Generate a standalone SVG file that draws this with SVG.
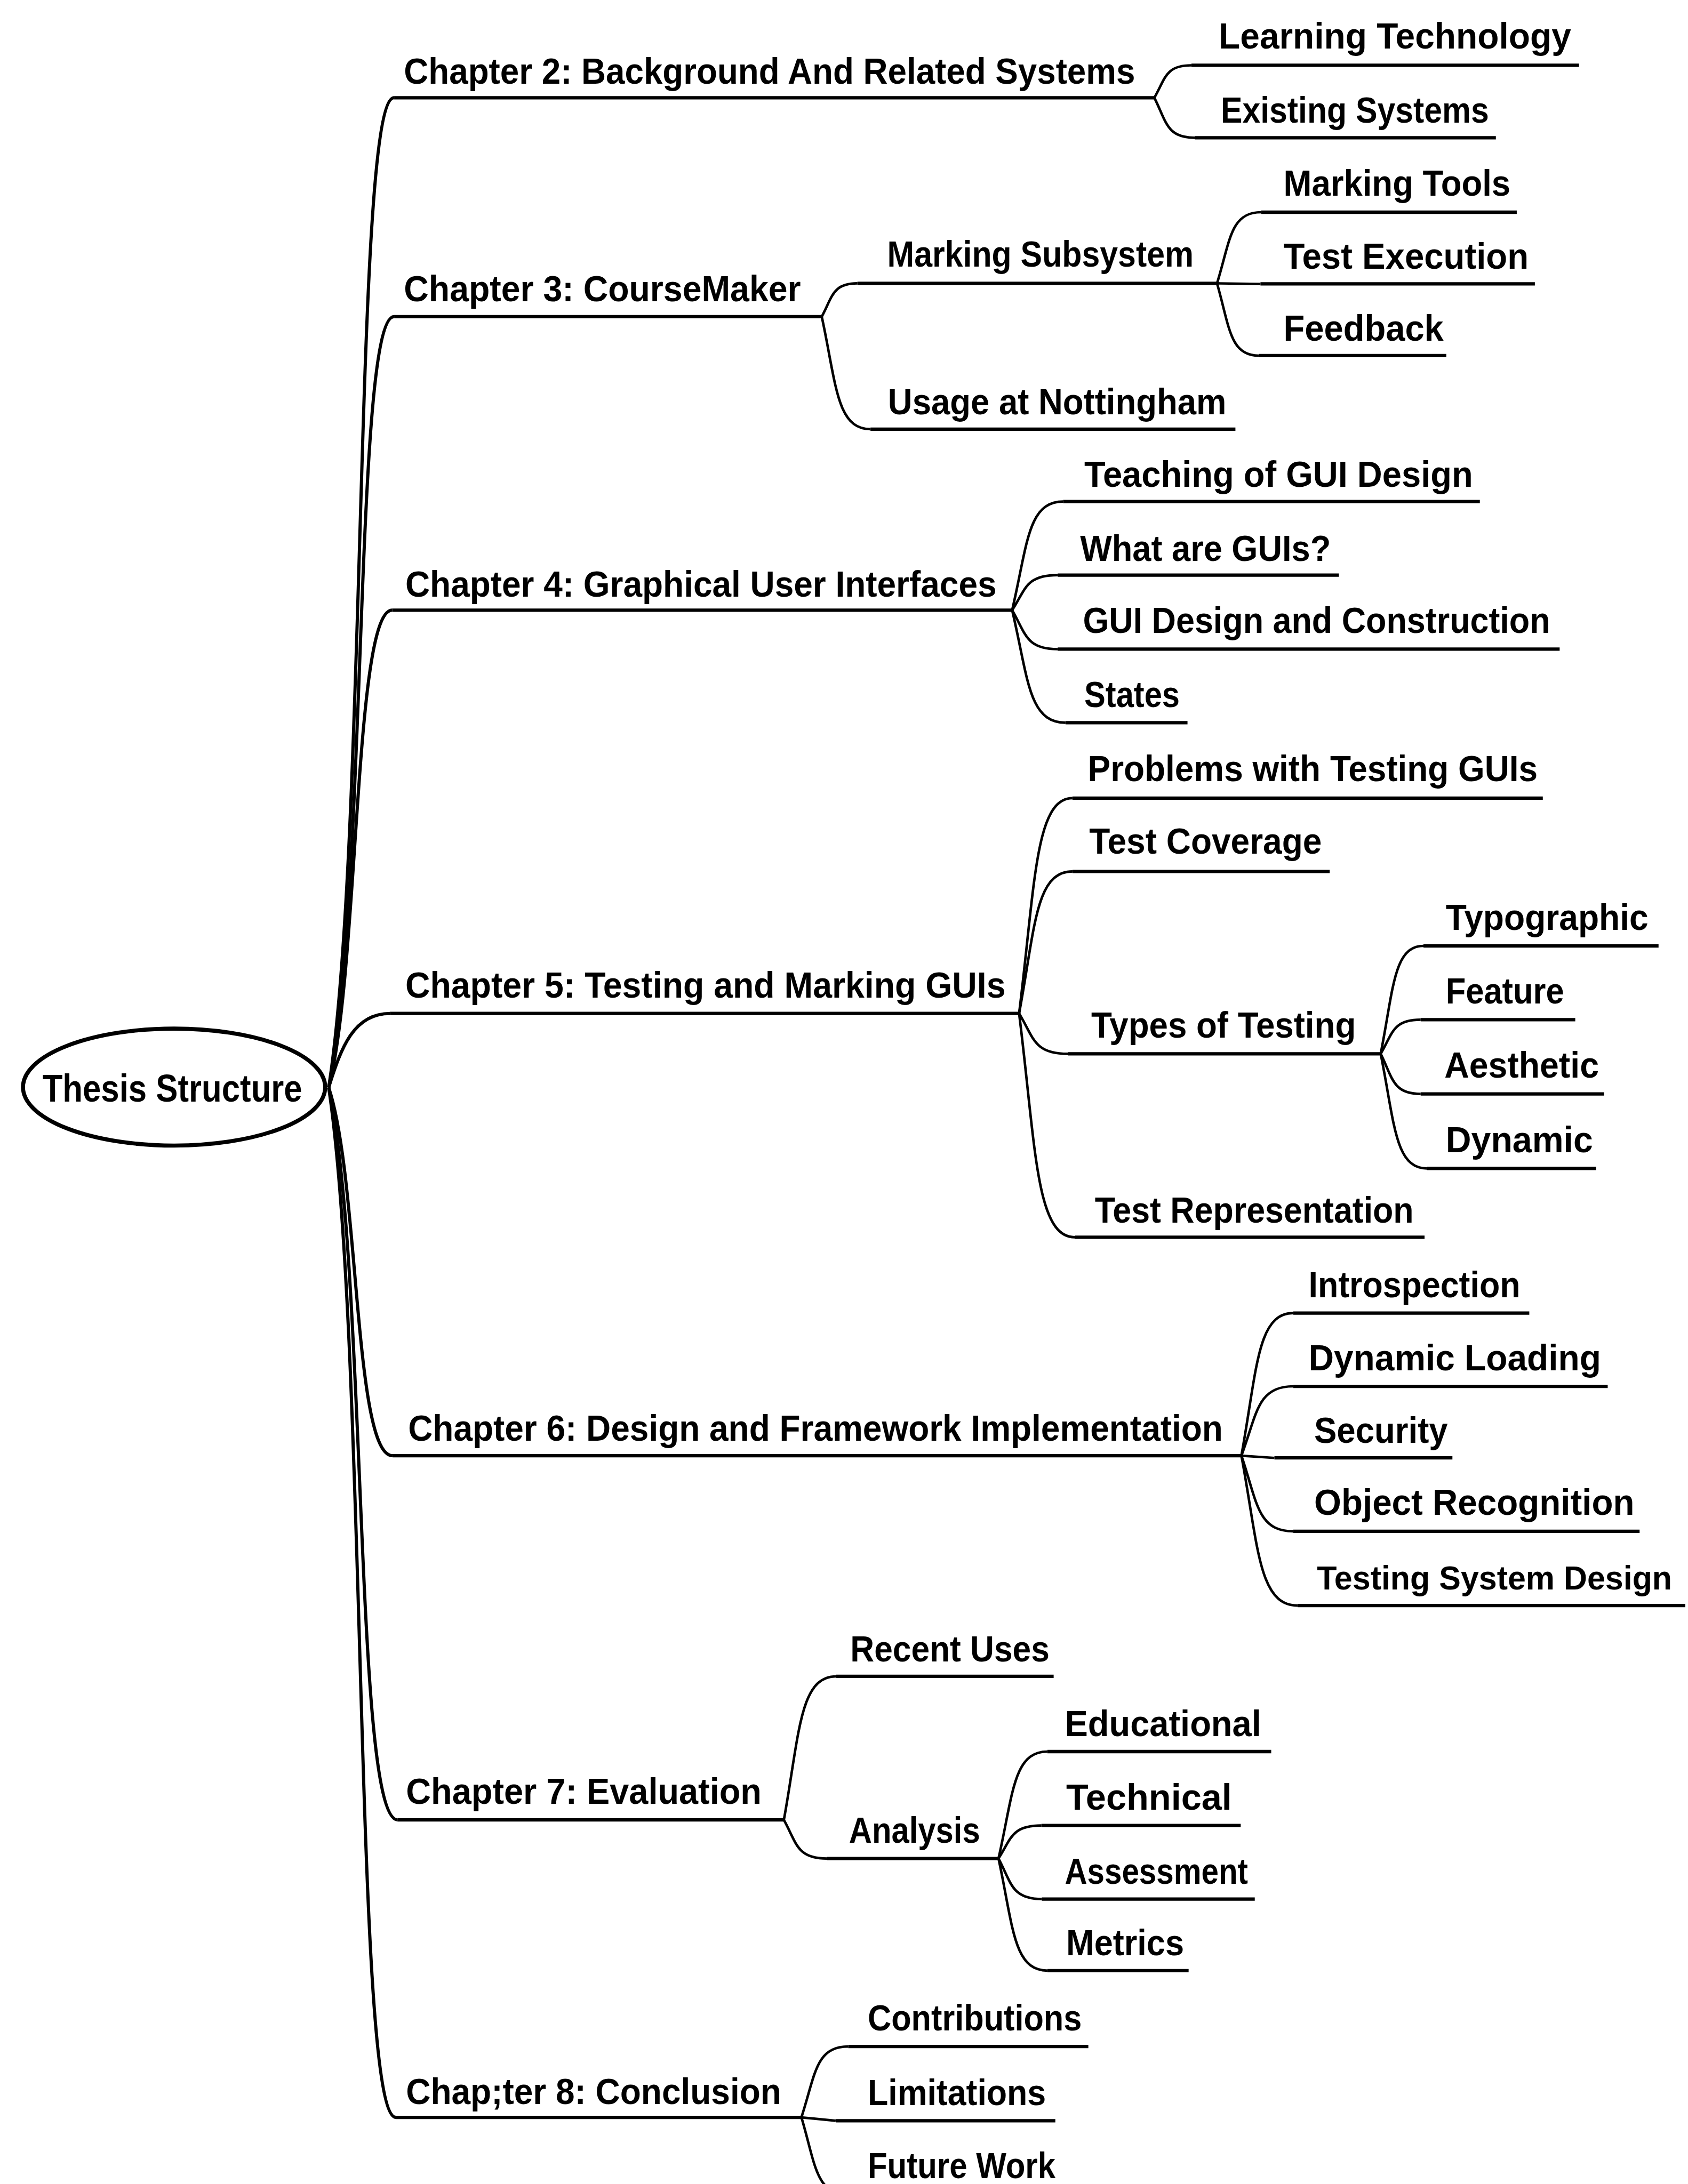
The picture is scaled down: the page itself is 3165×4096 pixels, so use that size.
<svg xmlns="http://www.w3.org/2000/svg" width="3165" height="4096" viewBox="0 0 3165 4096">
<style>
.t{font-family:'Liberation Sans',Arial,Helvetica,sans-serif;font-weight:700;font-size:26px;fill:#000}
.r{font-size:28px}
.s{font-size:24px}
.ul{stroke:#000;stroke-width:2.4;fill:none;stroke-linecap:butt}
.c{stroke:#000;stroke-width:1.8;fill:none}
.cm{stroke:#000;stroke-width:2.3;fill:none}
</style>
<rect x="0" y="0" width="3165" height="4096" fill="#fff"/>
<g transform="scale(2.6115)">
<g id="connectors">
<path class="cm" d="M236 781 C264 603.3 254 70.2 283 70.2"/>
<path class="cm" d="M236 781 C264 642.6 254 227.4 283 227.4"/>
<path class="cm" d="M236 781 C258 695.3 254 438.2 281.6 438.2"/>
<path class="cm" d="M236 781 C245 752 254 727.8 280 727.8"/>
<path class="cm" d="M236 781 C258 847.1 254 1045.4 281.8 1045.4"/>
<path class="cm" d="M236 781 C264 912.5 254 1307 285.6 1307"/>
<path class="cm" d="M236 781 C264 965.9 254 1520.6 284.3 1520.6"/>
<path class="c" d="M828.8 70.2 C836.8 56.2 836.8 46.9 855.4 46.9"/>
<path class="c" d="M828.8 70.2 C837.5 87.4 837.5 98.9 857.8 98.9"/>
<path class="c" d="M590 227.4 C597.7 213.1 597.7 203.5 615.6 203.5"/>
<path class="c" d="M590 227.4 C600.5 275.9 600.5 308.2 625 308.2"/>
<path class="c" d="M873.8 203.5 C883.3 172.8 883.3 152.4 905.5 152.4"/>
<path class="c" d="M873.8 203.5 L905 203.9"/>
<path class="c" d="M873.8 203.5 C882.8 234.6 882.8 255.4 903.8 255.4"/>
<path class="c" d="M726.7 438.2 C737.7 391.4 737.7 360.2 763.3 360.2"/>
<path class="c" d="M726.7 438.2 C736.5 423.1 736.5 413 759.4 413"/>
<path class="c" d="M726.7 438.2 C736.5 455 736.5 466.2 759.4 466.2"/>
<path class="c" d="M726.7 438.2 C738.2 486.7 738.2 519 765 519"/>
<path class="c" d="M731.7 727.8 C743.2 635 743.2 573.2 770 573.2"/>
<path class="c" d="M731.7 727.8 C743.2 666.6 743.2 625.8 770 625.8"/>
<path class="c" d="M731.7 727.8 C742.2 745.2 742.2 756.8 766.7 756.8"/>
<path class="c" d="M731.7 727.8 C743.7 824.2 743.7 888.5 771.6 888.5"/>
<path class="c" d="M991.3 756.8 C1000.5 710.3 1000.5 679.3 1022 679.3"/>
<path class="c" d="M991.3 756.8 C999.9 742.1 999.9 732.3 1020 732.3"/>
<path class="c" d="M991.3 756.8 C999.9 774.1 999.9 785.6 1020 785.6"/>
<path class="c" d="M991.3 756.8 C1001.3 806.2 1001.3 839.1 1024.5 839.1"/>
<path class="c" d="M891.3 1045.4 C902.5 984 902.5 943 928.5 943"/>
<path class="c" d="M891.3 1045.4 C902.5 1015.5 902.5 995.6 928.5 995.6"/>
<path class="c" d="M891.3 1045.4 L915 1047"/>
<path class="c" d="M891.3 1045.4 C902.5 1078 902.5 1099.7 928.5 1099.7"/>
<path class="c" d="M891.3 1045.4 C903.4 1110 903.4 1153 931.6 1153"/>
<path class="c" d="M562.8 1307 C574 1245.1 574 1203.9 600.3 1203.9"/>
<path class="c" d="M562.8 1307 C572 1323.6 572 1334.7 593.6 1334.7"/>
<path class="c" d="M716.9 1334.7 C727.4 1288.6 727.4 1257.9 752 1257.9"/>
<path class="c" d="M716.9 1334.7 C726.1 1320.5 726.1 1311 747.7 1311"/>
<path class="c" d="M716.9 1334.7 C726.2 1352.2 726.2 1363.8 748 1363.8"/>
<path class="c" d="M716.9 1334.7 C727.4 1383 727.4 1415.2 752 1415.2"/>
<path class="c" d="M575.4 1520.6 C585.4 1490.1 585.4 1469.7 609 1469.7"/>
<path class="c" d="M575.4 1520.6 L600 1523"/>
<path class="c" d="M575.4 1520.6 C585.4 1553.8 585.4 1576 609 1576"/>
</g>
<g id="n-root"><ellipse cx="125" cy="780.7" rx="108.5" ry="42" fill="#fff" stroke="#000" stroke-width="2.9"/><text class="t r" x="30.5" y="791" textLength="186.5" lengthAdjust="spacingAndGlyphs">Thesis Structure</text></g>
<g id="n-ch2"><text class="t" x="290" y="60" textLength="525" lengthAdjust="spacingAndGlyphs">Chapter 2: Background And Related Systems</text><line class="ul" x1="283" y1="70.2" x2="829" y2="70.2"/></g>
<g id="n-ch2a"><text class="t" x="875" y="35" textLength="253" lengthAdjust="spacingAndGlyphs">Learning Technology</text><line class="ul" x1="855.4" y1="46.9" x2="1133.7" y2="46.9"/></g>
<g id="n-ch2b"><text class="t" x="876.5" y="88" textLength="192.5" lengthAdjust="spacingAndGlyphs">Existing Systems</text><line class="ul" x1="857.8" y1="98.9" x2="1074" y2="98.9"/></g>
<g id="n-ch3"><text class="t" x="290" y="216.5" textLength="285" lengthAdjust="spacingAndGlyphs">Chapter 3: CourseMaker</text><line class="ul" x1="283" y1="227.4" x2="590" y2="227.4"/></g>
<g id="n-ch3a"><text class="t" x="637" y="191.5" textLength="220" lengthAdjust="spacingAndGlyphs">Marking Subsystem</text><line class="ul" x1="615.6" y1="203.5" x2="873.8" y2="203.5"/></g>
<g id="n-ch3a1"><text class="t" x="921.5" y="140.5" textLength="163" lengthAdjust="spacingAndGlyphs">Marking Tools</text><line class="ul" x1="905.5" y1="152.4" x2="1089" y2="152.4"/></g>
<g id="n-ch3a2"><text class="t" x="921.5" y="193" textLength="176" lengthAdjust="spacingAndGlyphs">Test Execution</text><line class="ul" x1="905" y1="203.9" x2="1102" y2="203.9"/></g>
<g id="n-ch3a3"><text class="t" x="921.5" y="244.8" textLength="115" lengthAdjust="spacingAndGlyphs">Feedback</text><line class="ul" x1="903.8" y1="255.4" x2="1038.4" y2="255.4"/></g>
<g id="n-ch3b"><text class="t" x="637.5" y="297.7" textLength="243" lengthAdjust="spacingAndGlyphs">Usage at Nottingham</text><line class="ul" x1="625" y1="308.2" x2="887" y2="308.2"/></g>
<g id="n-ch4"><text class="t" x="291" y="428.5" textLength="424.5" lengthAdjust="spacingAndGlyphs">Chapter 4: Graphical User Interfaces</text><line class="ul" x1="281.6" y1="438.2" x2="726.7" y2="438.2"/></g>
<g id="n-ch4a"><text class="t" x="778.5" y="349.7" textLength="279" lengthAdjust="spacingAndGlyphs">Teaching of GUI Design</text><line class="ul" x1="763.3" y1="360.2" x2="1062.5" y2="360.2"/></g>
<g id="n-ch4b"><text class="t" x="775.5" y="402.8" textLength="180" lengthAdjust="spacingAndGlyphs">What are GUIs?</text><line class="ul" x1="759.4" y1="413" x2="961.3" y2="413"/></g>
<g id="n-ch4c"><text class="t" x="777.5" y="454.5" textLength="335.5" lengthAdjust="spacingAndGlyphs">GUI Design and Construction</text><line class="ul" x1="759.4" y1="466.2" x2="1119.8" y2="466.2"/></g>
<g id="n-ch4d"><text class="t" x="778.5" y="507.8" textLength="68.5" lengthAdjust="spacingAndGlyphs">States</text><line class="ul" x1="765" y1="519" x2="852.6" y2="519"/></g>
<g id="n-ch5"><text class="t" x="291" y="716.5" textLength="431" lengthAdjust="spacingAndGlyphs">Chapter 5: Testing and Marking GUIs</text><line class="ul" x1="280" y1="727.8" x2="731.7" y2="727.8"/></g>
<g id="n-ch5a"><text class="t" x="781" y="561" textLength="323" lengthAdjust="spacingAndGlyphs">Problems with Testing GUIs</text><line class="ul" x1="770" y1="573.2" x2="1107.7" y2="573.2"/></g>
<g id="n-ch5b"><text class="t" x="782" y="613.2" textLength="167" lengthAdjust="spacingAndGlyphs">Test Coverage</text><line class="ul" x1="770" y1="625.8" x2="954.7" y2="625.8"/></g>
<g id="n-ch5c"><text class="t" x="783.5" y="745" textLength="190" lengthAdjust="spacingAndGlyphs">Types of Testing</text><line class="ul" x1="766.7" y1="756.8" x2="991.3" y2="756.8"/></g>
<g id="n-ch5c1"><text class="t" x="1038" y="667.7" textLength="145.5" lengthAdjust="spacingAndGlyphs">Typographic</text><line class="ul" x1="1022" y1="679.3" x2="1190.8" y2="679.3"/></g>
<g id="n-ch5c2"><text class="t" x="1038" y="720.5" textLength="85" lengthAdjust="spacingAndGlyphs">Feature</text><line class="ul" x1="1020" y1="732.3" x2="1131" y2="732.3"/></g>
<g id="n-ch5c3"><text class="t" x="1037" y="773.7" textLength="111" lengthAdjust="spacingAndGlyphs">Aesthetic</text><line class="ul" x1="1020" y1="785.6" x2="1151.7" y2="785.6"/></g>
<g id="n-ch5c4"><text class="t" x="1038" y="827.5" textLength="105.7" lengthAdjust="spacingAndGlyphs">Dynamic</text><line class="ul" x1="1024.5" y1="839.1" x2="1146" y2="839.1"/></g>
<g id="n-ch5d"><text class="t" x="786" y="878" textLength="229" lengthAdjust="spacingAndGlyphs">Test Representation</text><line class="ul" x1="771.6" y1="888.5" x2="1022.8" y2="888.5"/></g>
<g id="n-ch6"><text class="t" x="293" y="1034.8" textLength="585" lengthAdjust="spacingAndGlyphs">Chapter 6: Design and Framework Implementation</text><line class="ul" x1="281.8" y1="1045.4" x2="891.3" y2="1045.4"/></g>
<g id="n-ch6a"><text class="t" x="939.5" y="931.5" textLength="152" lengthAdjust="spacingAndGlyphs">Introspection</text><line class="ul" x1="928.5" y1="943" x2="1098" y2="943"/></g>
<g id="n-ch6b"><text class="t" x="939.5" y="984" textLength="210" lengthAdjust="spacingAndGlyphs">Dynamic Loading</text><line class="ul" x1="928.5" y1="995.6" x2="1154.3" y2="995.6"/></g>
<g id="n-ch6c"><text class="t" x="943.5" y="1036" textLength="96" lengthAdjust="spacingAndGlyphs">Security</text><line class="ul" x1="915" y1="1047" x2="1042.8" y2="1047"/></g>
<g id="n-ch6d"><text class="t" x="943.5" y="1088" textLength="230" lengthAdjust="spacingAndGlyphs">Object Recognition</text><line class="ul" x1="928.5" y1="1099.7" x2="1177.2" y2="1099.7"/></g>
<g id="n-ch6e"><text class="t s" x="945.5" y="1141.5" textLength="255" lengthAdjust="spacingAndGlyphs">Testing System Design</text><line class="ul" x1="931.6" y1="1153" x2="1210" y2="1153"/></g>
<g id="n-ch7"><text class="t" x="291.5" y="1295.5" textLength="255.3" lengthAdjust="spacingAndGlyphs">Chapter 7: Evaluation</text><line class="ul" x1="285.6" y1="1307" x2="562.8" y2="1307"/></g>
<g id="n-ch7a"><text class="t" x="610.5" y="1193" textLength="143" lengthAdjust="spacingAndGlyphs">Recent Uses</text><line class="ul" x1="600.3" y1="1203.9" x2="756.5" y2="1203.9"/></g>
<g id="n-ch7b"><text class="t" x="609.5" y="1323.3" textLength="94.2" lengthAdjust="spacingAndGlyphs">Analysis</text><line class="ul" x1="593.6" y1="1334.7" x2="716.9" y2="1334.7"/></g>
<g id="n-ch7b1"><text class="t" x="764.5" y="1246.7" textLength="141" lengthAdjust="spacingAndGlyphs">Educational</text><line class="ul" x1="752" y1="1257.9" x2="912.7" y2="1257.9"/></g>
<g id="n-ch7b2"><text class="t" x="765.5" y="1299.5" textLength="119" lengthAdjust="spacingAndGlyphs">Technical</text><line class="ul" x1="747.7" y1="1311" x2="890.8" y2="1311"/></g>
<g id="n-ch7b3"><text class="t" x="764.5" y="1352.8" textLength="131.5" lengthAdjust="spacingAndGlyphs">Assessment</text><line class="ul" x1="748" y1="1363.8" x2="900.9" y2="1363.8"/></g>
<g id="n-ch7b4"><text class="t" x="765.5" y="1404.3" textLength="84.6" lengthAdjust="spacingAndGlyphs">Metrics</text><line class="ul" x1="752" y1="1415.2" x2="853.4" y2="1415.2"/></g>
<g id="n-ch8"><text class="t" x="291.5" y="1511" textLength="269.4" lengthAdjust="spacingAndGlyphs">Chap;ter 8: Conclusion</text><line class="ul" x1="284.3" y1="1520.6" x2="575.4" y2="1520.6"/></g>
<g id="n-ch8a"><text class="t" x="623" y="1458.3" textLength="153.7" lengthAdjust="spacingAndGlyphs">Contributions</text><line class="ul" x1="609" y1="1469.7" x2="781.4" y2="1469.7"/></g>
<g id="n-ch8b"><text class="t" x="623" y="1511.6" textLength="128" lengthAdjust="spacingAndGlyphs">Limitations</text><line class="ul" x1="600" y1="1523" x2="757.7" y2="1523"/></g>
<g id="n-ch8c"><text class="t" x="623" y="1564.4" textLength="134.8" lengthAdjust="spacingAndGlyphs">Future Work</text><line class="ul" x1="609" y1="1576" x2="763" y2="1576"/></g>
</g>
</svg>
